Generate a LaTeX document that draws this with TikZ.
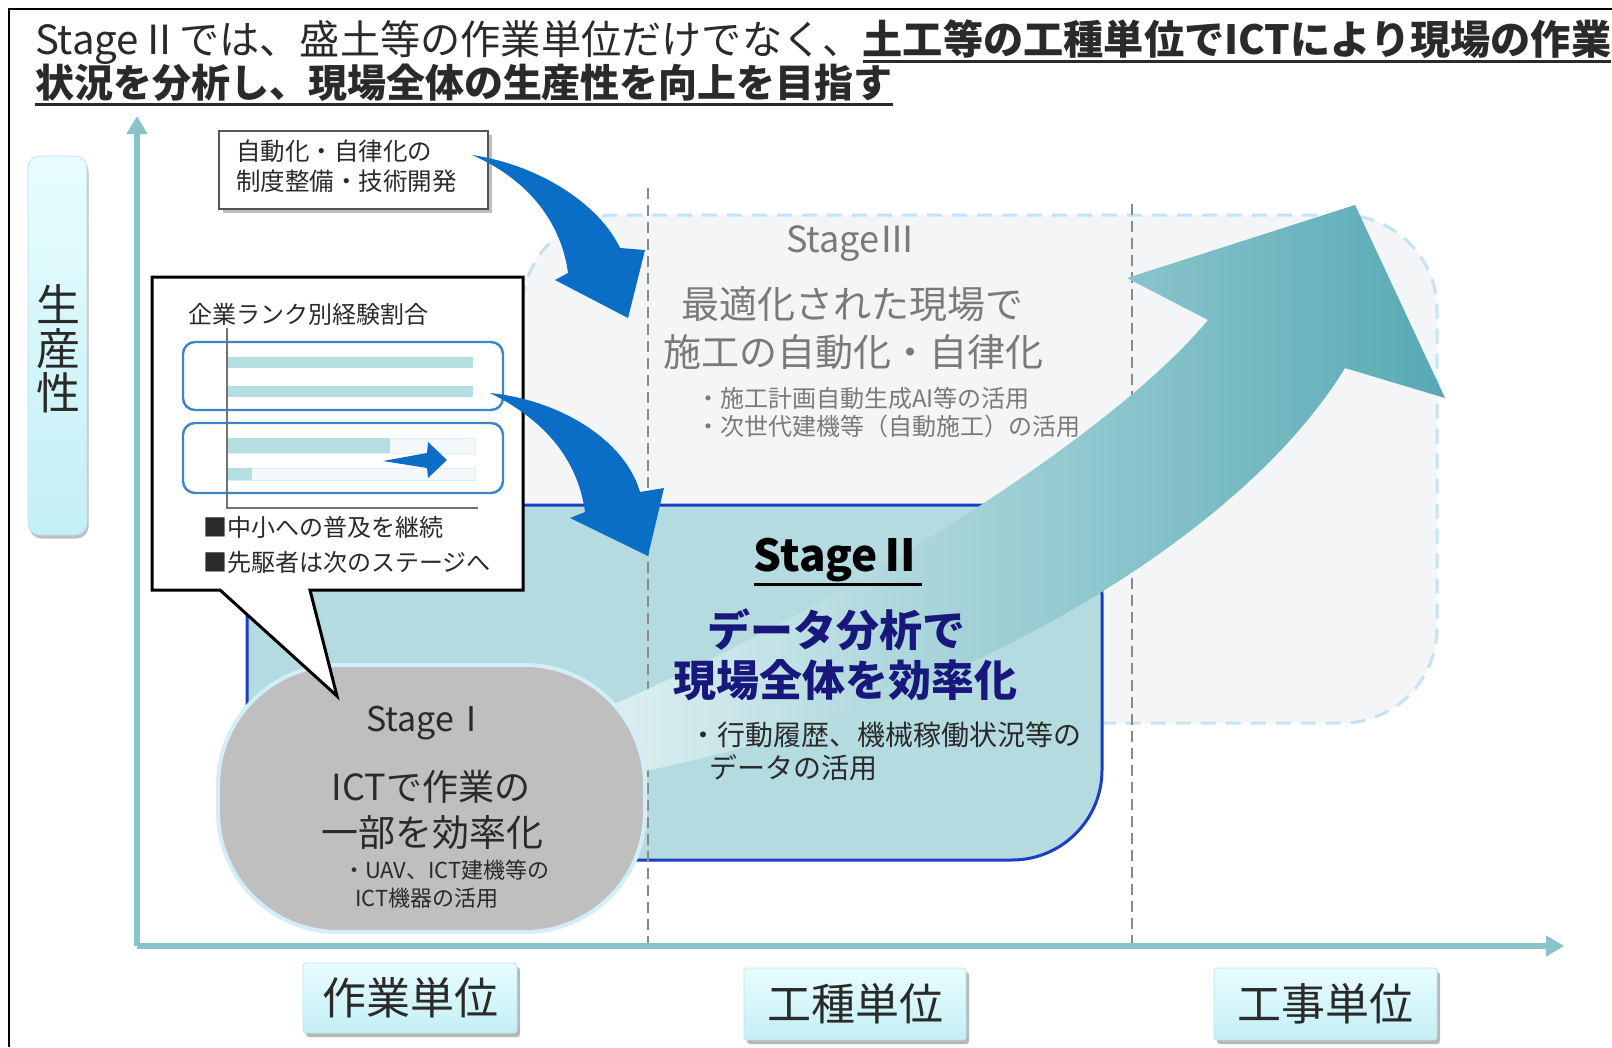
\documentclass[tikz,border=0pt]{standalone}
\usepackage{fontspec}
\setmainfont{Noto Sans CJK JP}
\usetikzlibrary{arrows.meta}
\definecolor{axisc}{HTML}{88C3CB}
\definecolor{s3fill}{HTML}{F4F5F6}
\definecolor{s3line}{HTML}{C4E3F5}
\definecolor{s3text}{HTML}{7A7A7A}
\definecolor{s2fill}{HTML}{B3DBE0}
\definecolor{s2line}{HTML}{1B3EC2}
\definecolor{navy}{HTML}{18187C}
\definecolor{s1fill}{HTML}{BFBFBF}
\definecolor{s1line}{HTML}{D3EEF8}
\definecolor{bluearr}{HTML}{0B6EC6}
\definecolor{barc}{HTML}{B5DEE1}
\definecolor{barbgc}{HTML}{F3F8FA}
\definecolor{barbgline}{HTML}{E2EDF1}
\definecolor{boxblue}{HTML}{3A86C8}
\definecolor{labtop}{HTML}{E8FDFF}
\definecolor{labbot}{HTML}{C3EFF5}
\definecolor{labedge}{HTML}{B8E6EE}
\definecolor{dashgray}{HTML}{8A8A8A}
\definecolor{tlgray}{HTML}{555555}
\definecolor{arrL}{HTML}{DDF0F2}
\definecolor{arrM}{HTML}{9ACDD3}
\definecolor{arrR}{HTML}{56A9B4}
\definecolor{darktxt}{HTML}{2A2A2A}
\newcommand{\fsz}[1]{\fontsize{#1}{#1}\selectfont}
\begin{document}
\begin{tikzpicture}[x=1pt,y=-1pt,
  every node/.style={inner sep=0pt,outer sep=0pt},
  labbox/.style={rounded corners=3pt, top color=labtop, bottom color=labbot, draw=labedge, line width=0.8pt, font=\fsz{44}, text=darktxt},
  shadowbox/.style={rounded corners=3pt, fill=black!28},
  vdash/.style={draw=dashgray, line width=1.6pt, dash pattern=on 11pt off 6pt},
  barbg/.style={fill=barbgc, draw=barbgline, line width=0.6pt},
  barfill/.style={fill=barc},
  minibox/.style={draw=boxblue, line width=2.4pt, rounded corners=12pt},
  axisline/.style={draw=axisc, line width=6pt, -{Triangle[width=20pt,length=18pt]}},
  ctext/.style={text=darktxt, font=\fsz{24}, anchor=west},
  graytxt/.style={text=s3text},
]
\useasboundingbox (0,0) rectangle (1612,1047);
\fill[white] (0,0) rectangle (1612,1047);
\draw[line width=2pt] (9,1047) -- (9,9) -- (1612,9);

% title
\node[anchor=base west, font=\fsz{40.2}, text=darktxt] (t1a) at (35,54) {StageⅡでは、盛土等の作業単位だけでなく、};
\node[anchor=base west, font=\fsz{40.2}\bfseries, text=darktxt] (t1b) at (t1a.base east) {土工等の工種単位でICTにより現場の作業};
\node[anchor=base west, font=\fsz{39}\bfseries, text=darktxt] (t2) at (35,97) {状況を分析し、現場全体の生産性を向上を目指す};
\draw[line width=3pt, darktxt] (t1b.west |- 0,61) -- (t1b.east |- 0,61);
\draw[line width=3pt, darktxt] (t2.west |- 0,104) -- (t2.east |- 0,104);

% Stage III region
\node[fill=s3fill, draw=s3line, line width=3pt, dash pattern=on 15pt off 10pt, rounded corners=95pt, minimum width=915pt, minimum height=508pt] (s3) at (979.5,469) {};

% Stage II region
\node[fill=s2fill, draw=s2line, line width=3pt, rounded corners=90pt, minimum width=855pt, minimum height=355pt] (s2) at (674.5,682.5) {};

% dashed verticals
\coordinate (d1t) at (648,188);
\coordinate (d1b) at (648,946);
\coordinate (d2t) at (1132,204);
\coordinate (d2b) at (1132,946);
\draw[vdash] (d1t) -- (d1b);
\draw[vdash] (d2t) -- (d2b);

% big arrow
\shade[left color=arrL, right color=arrR, middle color=arrM] (605,708) .. controls (800,625) and (1100,450) .. (1208,320) -- (1127,278) -- (1355,205) -- (1445,398) -- (1345,368) .. controls (1240,540) and (950,710) .. (640,772) -- cycle;

% Stage III text
\node[graytxt, font=\fsz{36}] (s3t) at (851,244) {StageⅢ};
\node[graytxt, font=\fsz{38}] (s3a) at (852,304) {最適化された現場で};
\node[graytxt, font=\fsz{38}] (s3b) at (853,352) {施工の自動化・自律化};
\node[graytxt, font=\fsz{24}, anchor=west] (s3c) at (696,398) {・施工計画自動生成AI等の活用};
\node[graytxt, font=\fsz{24}, anchor=west] (s3d) at (696,426) {・次世代建機等（自動施工）の活用};

% Stage II text
\node[font=\fsz{44}\bfseries, text=black] (s2t) at (838,560) {StageⅡ};
\draw[line width=3pt] (s2t.west |- 0,584) -- (s2t.east |- 0,584);
\node[font=\fsz{43}\bfseries, text=navy] (s2a) at (836,630) {データ分析で};
\node[font=\fsz{43}\bfseries, text=navy] (s2b) at (845,680) {現場全体を効率化};
\node[font=\fsz{28}, text=darktxt, anchor=west] (s2c) at (689,735) {・行動履歴、機械稼働状況等の};
\node[font=\fsz{28}, text=darktxt, anchor=west] (s2d) at (709,768) {データの活用};

% Stage I
\node[fill=s1fill, draw=s1line, line width=4pt, rounded corners=120pt, minimum width=427pt, minimum height=267pt] (s1) at (431.5,798.5) {};
\node[font=\fsz{34}, text=darktxt] (s1t) at (427,723) {StageⅠ};
\node[font=\fsz{36}, text=darktxt] (s1a) at (431,787) {ICTで作業の};
\node[font=\fsz{37}, text=darktxt] (s1b) at (432,833) {一部を効率化};
\node[font=\fsz{22}, text=darktxt, anchor=west] (s1c) at (343,870) {・UAV、ICT建機等の};
\node[font=\fsz{22}, text=darktxt, anchor=west] (s1d) at (355,898) {ICT機器の活用};

% callout
\draw[fill=white, line width=3pt, line join=miter] (152,277) -- (523,277) -- (523,590) -- (310,590) -- (337,696) -- (220,590) -- (152,590) -- cycle;
\node[ctext] (c0) at (188,314) {企業ランク別経験割合};
\node[minibox, minimum width=320pt, minimum height=68pt] (mb1) at (343,376) {};
\node[minibox, minimum width=320pt, minimum height=70pt] (mb2) at (343,458) {};
\fill[barfill] (228,357) rectangle (473,368);
\fill[barfill] (228,386) rectangle (473,397);
\draw[barbg] (228,438) rectangle (475,453);
\draw[barbg] (228,468) rectangle (475,480);
\fill[barfill] (228,438) rectangle (390,453);
\fill[barfill] (228,468) rectangle (252,480);
\draw[line width=1.5pt, black!55] (227,328) -- (227,508) -- (478,508);
\fill[bluearr] (383,461) -- (427,453) -- (428,442) -- (447,460) -- (428,478) -- (427,468) -- cycle;
\node[ctext] (c1) at (203,527) {■中小への普及を継続};
\node[ctext] (c2) at (203,562) {■先駆者は次のステージへ};

% top-left box
\node[fill=black!25, minimum width=269pt, minimum height=78pt] (tls) at (357,174) {};
\node[fill=white, draw=tlgray, line width=2.5pt, minimum width=269pt, minimum height=78pt] (tl) at (353.5,170) {};
\node[ctext, font=\fsz{24.5}] (tl1) at (236,151) {自動化・自律化の};
\node[ctext, font=\fsz{24.5}] (tl2) at (236,181) {制度整備・技術開発};

% blue curved arrows
\fill[bluearr] (472,155) .. controls (540,165) and (600,205) .. (620,248) -- (645,250) -- (628,318) -- (555,280) -- (568,273) .. controls (562,225) and (530,180) .. (472,155) -- cycle;
\fill[bluearr] (490,393) .. controls (560,400) and (625,440) .. (640,492) -- (664,488) -- (648,556) -- (570,518) -- (585,512) .. controls (578,460) and (545,420) .. (490,393) -- cycle;

% y label
\node[fill=black!25, rounded corners=12pt, minimum width=59pt, minimum height=379pt] (ylabs) at (59,349) {};
\node[labbox, rounded corners=12pt, minimum width=59pt, minimum height=379pt] (ylab) at (57.5,345.5) {};
\node[font=\fsz{44}, align=center, text=darktxt] (ylabt) at (58,349) {生\\産\\性};

% axes
\coordinate (org) at (137,946);
\coordinate (ytop) at (137,116);
\coordinate (xend) at (1564,946);
\draw[axisline] (org) -- (ytop);
\draw[axisline] (org) -- (xend);

% bottom labels
\node[shadowbox, minimum width=214pt, minimum height=70pt] (lab1s) at (413,1002) {};
\node[labbox, minimum width=214pt, minimum height=70pt] (lab1) at (410,998) {作業単位};
\node[shadowbox, minimum width=222pt, minimum height=72pt] (lab2s) at (858,1008) {};
\node[labbox, minimum width=222pt, minimum height=72pt] (lab2) at (855,1004) {工種単位};
\node[shadowbox, minimum width=223pt, minimum height=72pt] (lab3s) at (1328.5,1008) {};
\node[labbox, minimum width=223pt, minimum height=72pt] (lab3) at (1325.5,1004) {工事単位};
\end{tikzpicture}
\end{document}
